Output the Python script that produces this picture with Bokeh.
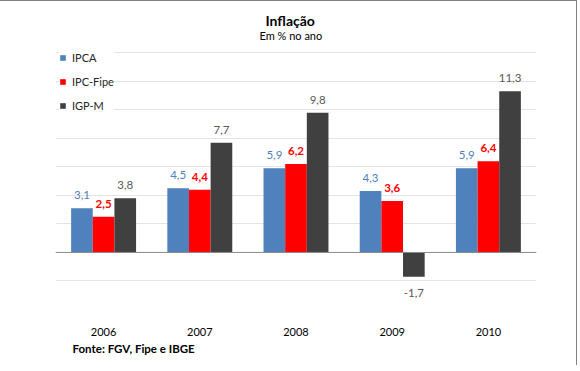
from bokeh.plotting import figure
from bokeh.models import (ColumnDataSource, Range1d, FixedTicker, Span, Title,
                          LabelSet, Legend, LegendItem)
from bokeh.transform import dodge
from bokeh.embed import file_html
from bokeh.resources import INLINE
from bokeh.core.properties import value

# ---- data ----
years = ["2006", "2007", "2008", "2009", "2010"]
ipca = [3.1, 4.5, 5.9, 4.3, 5.9]
ipc_fipe = [2.5, 4.4, 6.2, 3.6, 6.4]
igpm = [3.8, 7.7, 9.8, -1.7, 11.3]
series_names = ["IPCA", "IPC-Fipe", "IGP-M"]
grid_ticks = [-4, -2, 0, 2, 4, 6, 8, 10, 12, 14]

FONT = "Lato"
bar_colors = ["#4F81BD", "#FF0000", "#404040"]
label_colors = ["#4F81BD", "#FF0000", "#595959"]
label_styles = ["normal", "bold", "normal"]
offsets = [-0.225, 0.0, 0.225]
bar_w = 0.225

p = figure(x_range=years, y_range=Range1d(-4, 14.65), width=577, height=365,
           output_backend="svg", toolbar_location=None, title=None,
           min_border_left=55, min_border_right=41,
           min_border_top=42, min_border_bottom=57)
p.background_fill_color = "white"
p.border_fill_color = "white"
p.outline_line_color = None

p.yaxis.visible = False
p.ygrid.ticker = FixedTicker(ticks=grid_ticks)
p.ygrid.grid_line_color = "#E4E4E4"
p.xgrid.visible = False

p.xaxis.axis_line_color = None
p.xaxis.major_tick_line_color = None
p.xaxis.minor_tick_line_color = None
p.xaxis.major_label_standoff = 12
p.xaxis.major_label_text_font = FONT
p.xaxis.major_label_text_font_size = "11px"
p.xaxis.major_label_text_color = "#000000"

def fmt(v):
    return f"{v:.1f}".replace(".", ",")

items = []
for name, vals, col, lcol, lsty, off in zip(series_names, [ipca, ipc_fipe, igpm],
                                            bar_colors, label_colors, label_styles, offsets):
    src = ColumnDataSource(dict(
        year=years, val=vals,
        txt=[fmt(v) for v in vals],
        yoff=[9 if v >= 0 else -12 for v in vals],
        base=["bottom" if v >= 0 else "top" for v in vals],
    ))
    r = p.vbar(x=dodge("year", off, range=p.x_range), top="val", bottom=0,
               width=bar_w, source=src, fill_color=col, line_color=None)
    items.append(LegendItem(label=name, renderers=[r]))
    ls = LabelSet(x=dodge("year", off, range=p.x_range), y="val", text="txt",
                  y_offset="yoff", source=src, text_align="center",
                  text_baseline="base", text_font=value(FONT),
                  text_font_size="11.5px", text_color=lcol, text_font_style=lsty)
    p.add_layout(ls)

p.add_layout(Span(location=0, dimension="width", line_color="#8C8C8C", line_width=1))

legend = Legend(items=items, location=(4, 197), orientation="vertical",
                glyph_width=7, glyph_height=7, label_height=14, spacing=10,
                padding=4, margin=0, label_standoff=6,
                label_text_font=FONT, label_text_font_size="11px",
                label_text_color="#262626",
                background_fill_color="white", background_fill_alpha=1.0,
                border_line_color=None)
p.add_layout(legend)

p.add_layout(Title(text="Em % no ano", align="left", offset=204, standoff=0,
                   vertical_align="top",
                   text_font=FONT, text_font_size="11px", text_font_style="normal",
                   text_color="#000000"), "above")
p.add_layout(Title(text="Inflação", align="left", offset=210, standoff=0,
                   text_font=FONT, text_font_size="14px", text_font_style="bold",
                   text_color="#000000"), "above")
p.add_layout(Title(text="Fonte: FGV, Fipe e IBGE", align="left", offset=17, standoff=2,
                   text_font=FONT, text_font_size="11.5px", text_font_style="bold",
                   text_color="#000000"), "below")

p.styles = {"border-top": "1px solid #808080", "border-right": "1px solid #808080"}

open("out.html", "w").write(file_html(p, INLINE))
